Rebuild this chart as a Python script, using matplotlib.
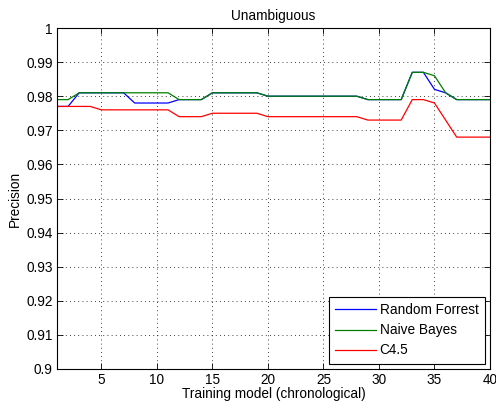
import matplotlib
matplotlib.use("Agg")
import matplotlib.pyplot as plt
import numpy as np

plt.rcParams["font.family"] = ["Liberation Sans", "DejaVu Sans"]

# precision per chronological training model
models = list(range(1, 41))
random_forrest = [0.977, 0.977, 0.981, 0.981, 0.981, 0.981, 0.981, 0.978, 0.978, 0.978,
                  0.978, 0.979, 0.979, 0.979, 0.981, 0.981, 0.981, 0.981, 0.981, 0.980,
                  0.980, 0.980, 0.980, 0.980, 0.980, 0.980, 0.980, 0.980, 0.979, 0.979,
                  0.979, 0.979, 0.987, 0.987, 0.982, 0.981, 0.979, 0.979, 0.979, 0.979]
naive_bayes = [0.979, 0.979, 0.981, 0.981, 0.981, 0.981, 0.981, 0.981, 0.981, 0.981,
               0.981, 0.979, 0.979, 0.979, 0.981, 0.981, 0.981, 0.981, 0.981, 0.980,
               0.980, 0.980, 0.980, 0.980, 0.980, 0.980, 0.980, 0.980, 0.979, 0.979,
               0.979, 0.979, 0.987, 0.987, 0.986, 0.981, 0.979, 0.979, 0.979, 0.979]
c45 = [0.977, 0.977, 0.977, 0.977, 0.976, 0.976, 0.976, 0.976, 0.976, 0.976,
       0.976, 0.974, 0.974, 0.974, 0.975, 0.975, 0.975, 0.975, 0.975, 0.974,
       0.974, 0.974, 0.974, 0.974, 0.974, 0.974, 0.974, 0.974, 0.973, 0.973,
       0.973, 0.973, 0.979, 0.979, 0.978, 0.973, 0.968, 0.968, 0.968, 0.968]

fs = 9.8

fig = plt.figure(figsize=(4.96, 4.08), dpi=100)
ax = fig.add_axes([57 / 496, 1 - 369 / 408, 433 / 496, 341 / 408])

ax.plot(models, random_forrest, color=(0, 0, 1), lw=0.9, label="Random Forrest")
ax.plot(models, naive_bayes, color=(0, 0.5, 0), lw=0.9, label="Naive Bayes")
ax.plot(models, c45, color=(1, 0, 0), lw=0.9, label="C4.5")

ax.set_xlim(1, 40)
ax.set_ylim(0.9, 1.0)
ax.set_xticks(np.arange(5, 41, 5))
yt = np.round(np.arange(0.9, 1.0001, 0.01), 2)
ax.set_yticks(yt)
ax.set_yticklabels([f"{v:g}" for v in yt])
ax.tick_params(direction="in", length=4, width=0.6, labelsize=fs, top=True, right=True, pad=3)
ax.grid(True, linestyle=(0, (1, 4)), color="black", lw=0.6)
for sp in ax.spines.values():
    sp.set_linewidth(0.8)

ax.set_title("Unambiguous", fontsize=fs, pad=6)
ax.set_xlabel("Training model (chronological)", fontsize=fs, labelpad=0)
ax.set_ylabel("Precision", fontsize=fs, labelpad=3)

leg = ax.legend(loc="lower right", fontsize=fs, fancybox=False, edgecolor="black",
                framealpha=1, borderaxespad=0.4, handlelength=3.0, handletextpad=0.3,
                labelspacing=0.45, borderpad=0.45)
leg.get_frame().set_linewidth(0.8)

fig.savefig("out.png", dpi=100)
